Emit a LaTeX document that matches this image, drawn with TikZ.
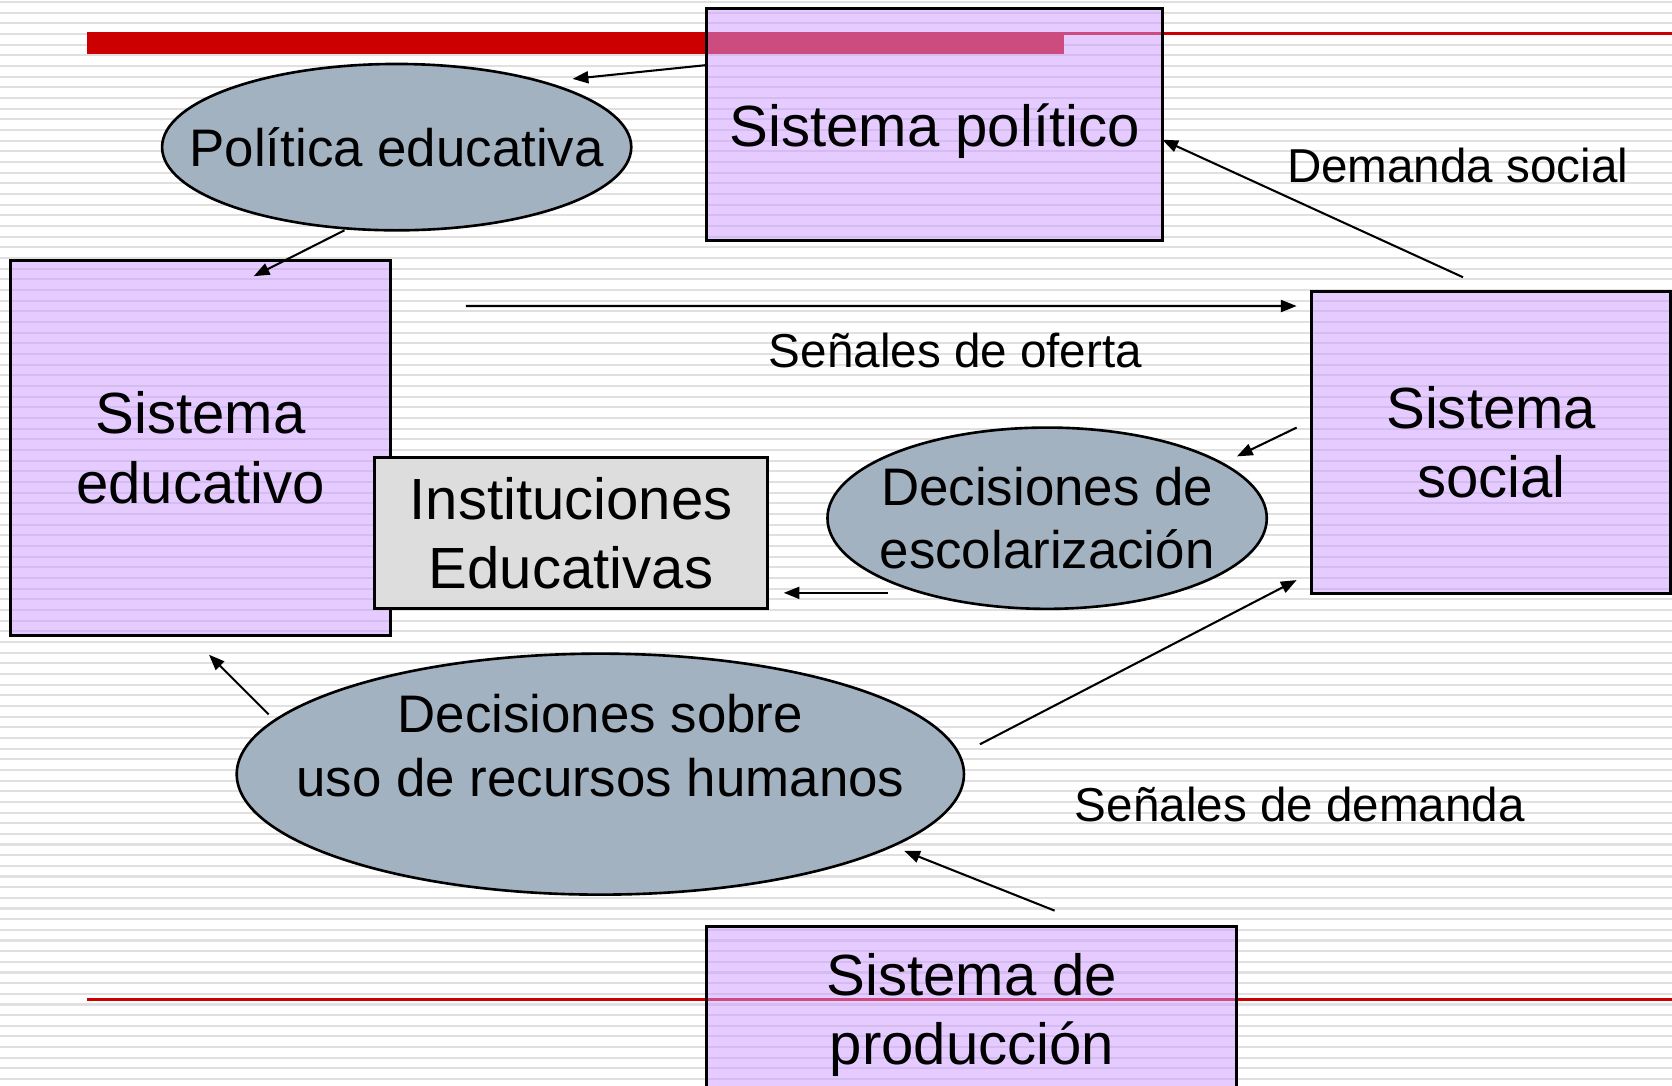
\documentclass[tikz,border=0pt]{standalone}
\usepackage{fontspec}
\setmainfont{Liberation Sans}
\usetikzlibrary{shapes,arrows.meta,calc,positioning}

\definecolor{lila}{HTML}{CC99FF}
\definecolor{gris}{HTML}{A3B2C1}
\definecolor{grisclaro}{HTML}{DDDDDD}
\definecolor{rojo}{HTML}{CC0000}

\begin{document}
\begin{tikzpicture}[x=0.1mm,y=0.1mm,>={Stealth[inset=0pt,length=4.2pt,width=3.2pt]}]
    \tikzstyle{sis}=[rectangle,draw=black,line width=0.8pt,fill=lila,fill opacity=0.5,text opacity=1,align=center,inner sep=0pt,outer sep=0pt,font=\fontsize{15.5}{18.5}\selectfont]
    \tikzstyle{inst}=[rectangle,draw=black,line width=0.8pt,fill=grisclaro,align=center,inner sep=0pt,outer sep=0pt,font=\fontsize{15.5}{18.5}\selectfont]
    \tikzstyle{dec}=[ellipse,draw=black,line width=0.7pt,fill=gris,align=center,inner sep=-3cm,outer sep=0pt,font=\fontsize{14.1}{17}\selectfont]
    \tikzstyle{etq}=[inner sep=0pt,font=\fontsize{12.7}{15}\selectfont]
    \tikzstyle{raya}=[black!12,line width=0.55pt]
    \tikzstyle{flecha}=[->,line width=0.55pt]

    \useasboundingbox (0,0) rectangle (1568,1018);
    \fill[white] (0,0) rectangle (1568,1018);
    \foreach \k in {0,...,101}
      \draw[raya] (0,6+10*\k) -- (1568,6+10*\k);

    % barra del titulo y linea del pie
    \fill[rojo] (82,967) rectangle (998,988);
    \draw[rojo,line width=0.7pt] (998,986.5) -- (1568,986.5);
    \draw[rojo,line width=0.8pt] (82,81) -- (1568,81);

    \node[sis,minimum width=42.7mm,minimum height=21.8mm,text depth=0pt](pol) at (876.5,901){Sistema político};
    \node[dec,minimum width=44mm,minimum height=15.6mm](poled) at (372,880){Política educativa};
    \node[sis,minimum width=35.6mm,minimum height=35.2mm](edu) at (188,598){Sistema\\educativo};
    \node[inst,minimum width=36.9mm,minimum height=14.2mm](ined) at (535.5,518){Instituciones\\Educativas};
    \node[dec,minimum width=41.2mm,minimum height=17mm](esc) at (982,532){Decisiones de\\escolarización};
    \node[sis,minimum width=33.7mm,minimum height=28.4mm](soc) at (1398.5,603){Sistema\\social};
    \node[dec,minimum width=68.2mm,minimum height=22.6mm,text depth=5.4mm](rrhh) at (563,292){Decisiones sobre\\uso de recursos humanos};
    \node[sis,minimum width=49.7mm,minimum height=15.4mm,text depth=0pt](prod) at (911.5,72){Sistema de\\producción};

    \node[etq](dsoc) at (1367,863){Demanda social};
    \node[etq](sofe) at (896,689){Señales de oferta};
    \node[etq](sdem) at (1219,264){Señales de demanda};

    \draw[flecha] ($(pol.west)+(0,56)$) -- ($(poled)+(165,64)$);
    \draw[flecha] ($(poled.south)+(-49,0)$) -- ($(edu.north)+(50,-15)$);
    \draw[flecha] ($(soc.north)+(-26.5,13)$) -- ($(pol.east)+(0,-14)$);
    \draw[flecha] ($(edu.north east)+(71,-43)$) -- ($(soc.north west)+(-14,-14)$);
    \draw[flecha] ($(soc.west)+(-14,14)$) -- ($(esc)+(178,58)$);
    \draw[flecha] ($(esc)+(-149,-70)$) -- ($(ined.east)+(15,-56)$);
    \draw[flecha] ($(rrhh)+(-311,56)$) -- ($(edu.south)+(8,-18)$);
    \draw[flecha] ($(rrhh.east)+(15,28)$) -- ($(soc.south west)+(-14,13)$);
    \draw[flecha] ($(prod.north)+(77.5,15)$) -- ($(rrhh)+(285,-72)$);
\end{tikzpicture}
\end{document}
